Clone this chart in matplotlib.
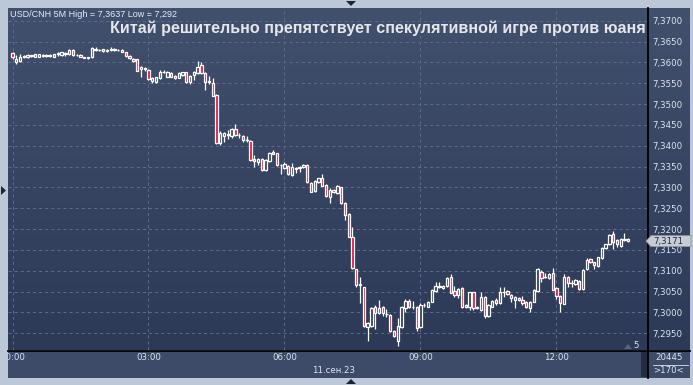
import matplotlib
matplotlib.use("Agg")
import matplotlib.pyplot as plt
import numpy as np
from matplotlib.patches import Rectangle, Polygon
from matplotlib.lines import Line2D

plt.rcParams['lines.scale_dashes'] = False
plt.rcParams['font.family'] = ['DejaVu Sans']

W, H = 693, 385

# ---- USD/CNH, 5-minute bars, 11 Sep 2023 ----
opens = [
    7.3623, 7.3602, 7.3604, 7.3614, 7.3612, 7.3616, 7.3614, 7.3614, 7.3616, 7.3615,
    7.3616, 7.3614, 7.3621, 7.3617, 7.3621, 7.3619, 7.3630, 7.3617, 7.3618, 7.3612,
    7.3611, 7.3612, 7.3630, 7.3630, 7.3627, 7.3630, 7.3630, 7.3631, 7.3630, 7.3630,
    7.3625, 7.3616, 7.3609, 7.3607, 7.3583, 7.3586, 7.3582, 7.3555, 7.3554, 7.3562,
    7.3576, 7.3566, 7.3574, 7.3568, 7.3563, 7.3570, 7.3576, 7.3552, 7.3570, 7.3574,
    7.3594, 7.3574, 7.3555, 7.3550, 7.3522, 7.3406, 7.3424, 7.3426, 7.3424, 7.3440,
    7.3426, 7.3423, 7.3413, 7.3411, 7.3367, 7.3362, 7.3368, 7.3342, 7.3363, 7.3386,
    7.3382, 7.3354, 7.3346, 7.3351, 7.3330, 7.3346, 7.3347, 7.3349, 7.3354, 7.3311,
    7.3291, 7.3312, 7.3322, 7.3306, 7.3278, 7.3294, 7.3286, 7.3300, 7.3262, 7.3236,
    7.3180, 7.3103, 7.3066, 7.3060, 7.2966, 7.2967, 7.3014, 7.2999, 7.3014, 7.2996,
    7.2994, 7.2955, 7.2932, 7.2964, 7.3010, 7.3028, 7.3014, 7.3014, 7.2964, 7.3017,
    7.3014, 7.3026, 7.3052, 7.3062, 7.3058, 7.3064, 7.3084, 7.3051, 7.3042, 7.3058,
    7.3012, 7.3014, 7.3048, 7.3012, 7.3006, 7.3038, 7.2992, 7.3014, 7.3030, 7.3022,
    7.3048, 7.3051, 7.3035, 7.3030, 7.3035, 7.3030, 7.3026, 7.3011, 7.3026, 7.3051,
    7.3098, 7.3086, 7.3082, 7.3094, 7.3058, 7.3039, 7.3021, 7.3084, 7.3070, 7.3067,
    7.3075, 7.3055, 7.3103, 7.3128, 7.3120, 7.3112, 7.3130, 7.3154, 7.3164, 7.3187,
    7.3163, 7.3160, 7.3174, 7.3176,
]
highs = [
    7.3625, 7.3618, 7.3619, 7.3617, 7.3619, 7.3618, 7.3620, 7.3620, 7.3619, 7.3619,
    7.3619, 7.3621, 7.3626, 7.3626, 7.3625, 7.3632, 7.3632, 7.3619, 7.3619, 7.3613,
    7.3613, 7.3636, 7.3637, 7.3632, 7.3632, 7.3632, 7.3636, 7.3635, 7.3633, 7.3631,
    7.3626, 7.3617, 7.3610, 7.3609, 7.3591, 7.3590, 7.3584, 7.3564, 7.3566, 7.3582,
    7.3582, 7.3579, 7.3576, 7.3570, 7.3578, 7.3578, 7.3578, 7.3570, 7.3579, 7.3603,
    7.3600, 7.3576, 7.3568, 7.3563, 7.3523, 7.3435, 7.3432, 7.3438, 7.3442, 7.3451,
    7.3430, 7.3426, 7.3424, 7.3413, 7.3378, 7.3371, 7.3370, 7.3368, 7.3384, 7.3390,
    7.3383, 7.3355, 7.3360, 7.3354, 7.3358, 7.3349, 7.3351, 7.3355, 7.3355, 7.3314,
    7.3318, 7.3323, 7.3332, 7.3307, 7.3298, 7.3295, 7.3306, 7.3302, 7.3264, 7.3238,
    7.3204, 7.3105, 7.3084, 7.3062, 7.2978, 7.3014, 7.3018, 7.3030, 7.3016, 7.3008,
    7.2996, 7.2958, 7.2986, 7.3016, 7.3031, 7.3032, 7.3028, 7.3016, 7.3022, 7.3022,
    7.3027, 7.3056, 7.3072, 7.3072, 7.3066, 7.3084, 7.3092, 7.3063, 7.3058, 7.3060,
    7.3020, 7.3050, 7.3050, 7.3015, 7.3048, 7.3040, 7.3020, 7.3030, 7.3034, 7.3062,
    7.3060, 7.3053, 7.3044, 7.3040, 7.3038, 7.3040, 7.3027, 7.3027, 7.3056, 7.3106,
    7.3102, 7.3095, 7.3094, 7.3106, 7.3060, 7.3042, 7.3092, 7.3088, 7.3078, 7.3080,
    7.3078, 7.3104, 7.3130, 7.3130, 7.3122, 7.3134, 7.3156, 7.3165, 7.3188, 7.3195,
    7.3176, 7.3178, 7.3190, 7.3179,
]
lows = [
    7.3609, 7.3595, 7.3601, 7.3610, 7.3611, 7.3614, 7.3613, 7.3612, 7.3613, 7.3613,
    7.3613, 7.3613, 7.3616, 7.3616, 7.3616, 7.3617, 7.3615, 7.3616, 7.3613, 7.3610,
    7.3607, 7.3611, 7.3627, 7.3627, 7.3626, 7.3624, 7.3628, 7.3628, 7.3628, 7.3624,
    7.3613, 7.3609, 7.3602, 7.3579, 7.3564, 7.3580, 7.3558, 7.3550, 7.3551, 7.3560,
    7.3574, 7.3564, 7.3564, 7.3560, 7.3562, 7.3568, 7.3551, 7.3549, 7.3558, 7.3572,
    7.3572, 7.3534, 7.3547, 7.3519, 7.3403, 7.3402, 7.3408, 7.3416, 7.3418, 7.3424,
    7.3418, 7.3408, 7.3408, 7.3363, 7.3350, 7.3354, 7.3340, 7.3340, 7.3362, 7.3379,
    7.3352, 7.3331, 7.3344, 7.3330, 7.3328, 7.3334, 7.3338, 7.3347, 7.3311, 7.3288,
    7.3290, 7.3311, 7.3303, 7.3278, 7.3262, 7.3286, 7.3284, 7.3260, 7.3222, 7.3180,
    7.3104, 7.3062, 7.3022, 7.2966, 7.2932, 7.2964, 7.2960, 7.2997, 7.2992, 7.2990,
    7.2954, 7.2942, 7.2920, 7.2962, 7.3002, 7.3010, 7.3008, 7.2956, 7.2962, 7.3014,
    7.3012, 7.3024, 7.3048, 7.3058, 7.3056, 7.3062, 7.3046, 7.3038, 7.3034, 7.3010,
    7.3010, 7.3006, 7.3006, 7.3008, 7.3004, 7.2986, 7.2990, 7.3012, 7.3018, 7.3020,
    7.3038, 7.3042, 7.3026, 7.3011, 7.3027, 7.3018, 7.3011, 7.3000, 7.3024, 7.3050,
    7.3074, 7.3082, 7.3080, 7.3053, 7.3031, 7.3002, 7.3019, 7.3062, 7.3060, 7.3066,
    7.3054, 7.3054, 7.3102, 7.3118, 7.3104, 7.3110, 7.3128, 7.3152, 7.3162, 7.3152,
    7.3158, 7.3158, 7.3171, 7.3168,
]
closes = [
    7.3614, 7.3607, 7.3614, 7.3615, 7.3618, 7.3617, 7.3619, 7.3619, 7.3617, 7.3617,
    7.3617, 7.3620, 7.3622, 7.3624, 7.3622, 7.3630, 7.3617, 7.3618, 7.3614, 7.3611,
    7.3612, 7.3634, 7.3631, 7.3629, 7.3631, 7.3628, 7.3631, 7.3630, 7.3629, 7.3625,
    7.3615, 7.3611, 7.3604, 7.3580, 7.3588, 7.3585, 7.3559, 7.3562, 7.3564, 7.3577,
    7.3577, 7.3577, 7.3566, 7.3562, 7.3574, 7.3576, 7.3552, 7.3568, 7.3576, 7.3590,
    7.3574, 7.3554, 7.3554, 7.3520, 7.3406, 7.3430, 7.3430, 7.3427, 7.3440, 7.3426,
    7.3425, 7.3414, 7.3413, 7.3365, 7.3363, 7.3368, 7.3342, 7.3366, 7.3382, 7.3381,
    7.3354, 7.3353, 7.3355, 7.3331, 7.3350, 7.3345, 7.3348, 7.3354, 7.3312, 7.3290,
    7.3315, 7.3322, 7.3304, 7.3279, 7.3294, 7.3288, 7.3304, 7.3262, 7.3234, 7.3182,
    7.3106, 7.3066, 7.3067, 7.2968, 7.2975, 7.3010, 7.2999, 7.3011, 7.2998, 7.2995,
    7.2956, 7.2943, 7.2967, 7.3014, 7.3028, 7.3012, 7.3013, 7.2963, 7.3018, 7.3018,
    7.3026, 7.3054, 7.3063, 7.3063, 7.3064, 7.3082, 7.3047, 7.3041, 7.3056, 7.3012,
    7.3018, 7.3048, 7.3010, 7.3011, 7.3038, 7.2991, 7.3018, 7.3027, 7.3022, 7.3050,
    7.3050, 7.3044, 7.3042, 7.3038, 7.3030, 7.3022, 7.3014, 7.3026, 7.3054, 7.3103,
    7.3083, 7.3086, 7.3091, 7.3054, 7.3039, 7.3023, 7.3086, 7.3070, 7.3070, 7.3078,
    7.3055, 7.3102, 7.3126, 7.3120, 7.3114, 7.3132, 7.3154, 7.3163, 7.3186, 7.3168,
    7.3174, 7.3176, 7.3175, 7.3171,
]

price_ticks = [7.3700, 7.3650, 7.3600, 7.3550, 7.3500, 7.3450, 7.3400, 7.3350,
               7.3300, 7.3250, 7.3200, 7.3150, 7.3100, 7.3050, 7.3000, 7.2950]
hour_ticks = [0, 3, 6, 9, 12]
hour_labels = ["00:00", "03:00", "06:00", "09:00", "12:00"]
session_date = "11.сен.23"
header = "USD/CNH 5M High = 7,3637 Low = 7,292"
headline = "Китай решительно препятствует спекулятивной игре против юаня"
last_price = 7.3171
bar_minutes = 5
volume_text = "20445"
scale_text = ">170<"

# ---- styling ----
FRAME = "#bcc8d8"
BG_TOP = np.array([0x41, 0x50, 0x6d]) / 255.0
BG_BOT = np.array([0x2c, 0x39, 0x57]) / 255.0
AXIS_BAR = "#3d4b69"
GRID = "#5a6a8b"
DOWN = "#e8143c"
EDGE = "white"
LABEL = "#dde5f2"

fig = plt.figure(figsize=(W / 100, H / 100), dpi=100, facecolor=FRAME)


def box(x0, y0, x1, y1):
    return [x0 / W, 1 - y1 / H, (x1 - x0) / W, (y1 - y0) / H]


PLOT_Y0, PLOT_Y1 = 8, 350

# gradient background behind the chart and the price scale
ax_bg = fig.add_axes(box(8, PLOT_Y0, 690, PLOT_Y1))
ramp = np.linspace(0, 1, 256)[:, None, None]
ax_bg.imshow(BG_TOP + (BG_BOT - BG_TOP) * ramp, aspect="auto",
             extent=[0, 1, 0, 1], interpolation="bilinear")
ax_bg.set_axis_off()

ax = fig.add_axes(box(8, PLOT_Y0, 648, PLOT_Y1))
ax.set_facecolor("none")
ax.set_xlim(-0.0993, 14.019)
ax.set_ylim(7.29097, 7.37305)
for s in ax.spines.values():
    s.set_visible(False)

ax.set_xticks(hour_ticks)
ax.tick_params(axis="x", length=0, labelbottom=False)
ax.set_yticks(price_ticks)
ax.set_yticklabels([f"{v:.4f}".replace(".", ",") for v in price_ticks])
ax.yaxis.tick_right()
ax.tick_params(axis="y", length=0, pad=3, labelsize=6.2, labelcolor=LABEL)
ax.grid(True, color=GRID, lw=0.75, linestyle=(0, (2.2, 2.2)))
ax.set_axisbelow(True)

y0, y1 = ax.get_ylim()


def bg_at(price):
    f = (y1 - price) / (y1 - y0)
    return tuple(BG_TOP + (BG_BOT - BG_TOP) * f)


step = bar_minutes / 60.0
times = np.arange(len(closes)) * step
body_w = step * 0.62

ax.vlines(times, lows, highs, color=EDGE, lw=0.9, zorder=3)
for t, o, c in zip(times, opens, closes):
    lo, hi = min(o, c), max(o, c)
    if hi - lo < 0.00004:
        ax.add_line(Line2D([t - body_w / 2, t + body_w / 2], [o, o],
                           color=EDGE, lw=1.0, zorder=4))
        continue
    face = DOWN if c < o else bg_at((lo + hi) / 2)
    ax.add_patch(Rectangle((t - body_w / 2, lo), body_w, hi - lo,
                           facecolor=face, edgecolor=EDGE, lw=0.9, zorder=4))

# time axis bar
ax_bot = fig.add_axes(box(8, 351, 648, 378))
ax_bot.set_facecolor(AXIS_BAR)
ax_bot.set_xlim(ax.get_xlim())
ax_bot.set_ylim(0, 1)
ax_bot.set_xticks([])
ax_bot.set_yticks([])
for s in ax_bot.spines.values():
    s.set_visible(False)
for t, lab in zip(hour_ticks, hour_labels):
    ax_bot.text(t, 0.76, lab, ha="center", va="center", fontsize=6.2,
                color=LABEL, clip_on=True)
ax_bot.text(0.508, 0.27, session_date, transform=ax_bot.transAxes,
            ha="center", va="center", fontsize=6.2, color=LABEL)
ax_bot.add_patch(Rectangle((0.989, 0.04), 0.009, 0.92, transform=ax_bot.transAxes,
                           facecolor="#222c42", edgecolor="none"))

# corner cell
ax_c = fig.add_axes(box(648, 351, 690, 378))
ax_c.set_facecolor(AXIS_BAR)
ax_c.set_xticks([])
ax_c.set_yticks([])
for s in ax_c.spines.values():
    s.set_visible(False)
ax_c.text(0.5, 0.76, volume_text, transform=ax_c.transAxes, ha="center",
          va="center", fontsize=6.2, color=LABEL)
ax_c.text(0.5, 0.26, scale_text, transform=ax_c.transAxes, ha="center",
          va="center", fontsize=6.2, color=LABEL)
ax_c.plot([0.12, 0.95], [0.5, 0.5], transform=ax_c.transAxes, color=LABEL, lw=0.6)

# panel separators
fig.add_artist(Line2D([648 / W, 648 / W], [1 - 8 / H, 1 - 378 / H],
                      color="black", lw=1.3))
fig.add_artist(Line2D([8 / W, 690 / W], [1 - 351 / H, 1 - 351 / H],
                      color="black", lw=1.3))

# texts on the chart
fig.text(10 / W, 1 - 14.5 / H, header, ha="left", va="center",
         fontsize=6.5, color="#e9eef6", family=["Liberation Sans"])
fig.text(378 / W, 1 - 28.5 / H, headline, ha="center", va="center",
         fontsize=11.6, fontweight="bold", color="#e6e6ea",
         family=["Liberation Sans"])
fig.text(636 / W, 1 - 346 / H, str(bar_minutes), ha="center", va="center",
         fontsize=6.2, color=LABEL)
fig.add_artist(Polygon([[624 / W, 1 - 349 / H], [632 / W, 1 - 349 / H],
                        [628 / W, 1 - 344 / H]], closed=True,
                       facecolor="#56657f", edgecolor="none",
                       transform=fig.transFigure))

# last price tag on the price scale
ly = ax.transData.transform((0, last_price))[1]
fy = ly / (H)
tag = Polygon([[646 / W, fy], [651 / W, fy + 5.5 / H], [691 / W, fy + 5.5 / H],
               [691 / W, fy - 5.5 / H], [651 / W, fy - 5.5 / H]],
              closed=True, facecolor="#c9cdd3", edgecolor="#8d939c", lw=0.6,
              transform=fig.transFigure, zorder=5)
fig.add_artist(tag)
fig.text(653 / W, fy, f"{last_price:.4f}".replace(".", ","), ha="left",
         va="center", fontsize=6.2, color="#1d2b4a", zorder=6)

# frame markers
DARK = "#1b2336"
for pts in ([[346, 1], [356, 1], [351, 6]],
            [[346, 384], [356, 384], [351, 379]],
            [[1, 186], [1, 195], [6, 190.5]]):
    fig.add_artist(Polygon([[x / W, 1 - y / H] for x, y in pts], closed=True,
                           facecolor=DARK, edgecolor="none",
                           transform=fig.transFigure))

fig.savefig("out.png", dpi=100, facecolor=FRAME)
